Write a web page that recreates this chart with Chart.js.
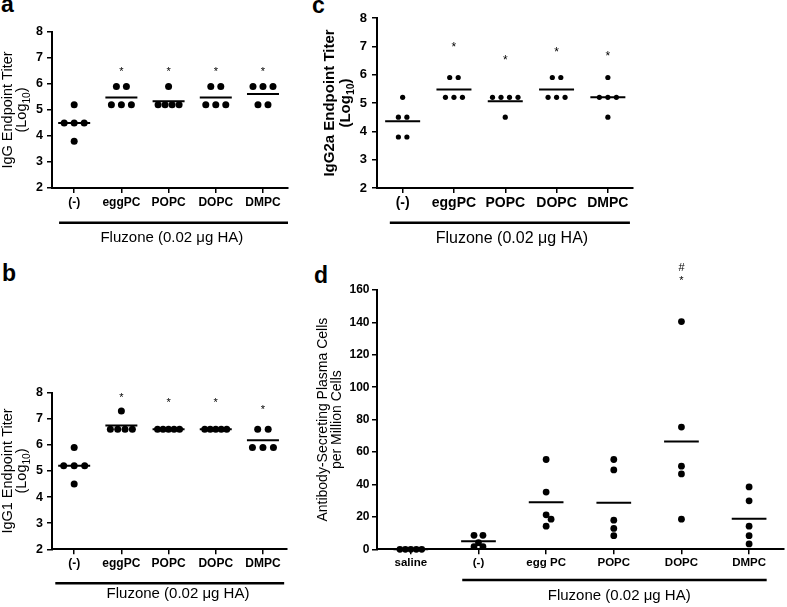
<!DOCTYPE html>
<html>
<head>
<meta charset="utf-8">
<script src="https://cdn.jsdelivr.net/npm/chart.js@4.4.1/dist/chart.umd.min.js"></script>
<style>
  body { margin: 0; background: #fff; }
  #fig { position: relative; width: 787px; height: 607px; overflow: hidden; }
  #fig canvas { position: absolute; }
  .letter { position: absolute; font: bold 23px "Liberation Sans", Arial, sans-serif; line-height: 23px; color: #000; }
</style>
</head>
<body>
<div id="fig">
  <div class="letter" style="left:1px;top:-7px">a</div>
  <div class="letter" style="left:312px;top:-6px">c</div>
  <div class="letter" style="left:2px;top:262px">b</div>
  <div class="letter" style="left:314px;top:264px">d</div>
  <canvas id="chartA" width="305" height="255" style="left:0;top:0"></canvas>
  <canvas id="chartC" width="335" height="255" style="left:310px;top:0"></canvas>
  <canvas id="chartB" width="305" height="349" style="left:0;top:258px"></canvas>
  <canvas id="chartD" width="477" height="349" style="left:310px;top:258px"></canvas>
</div>
<script>
// categories
const titerGroups = ['(-)', 'eggPC', 'POPC', 'DOPC', 'DMPC'];
const ascGroups = ['saline', '(-)', 'egg PC', 'POPC', 'DOPC', 'DMPC'];

// a: IgG endpoint titer (log10), five mice per group
const iggValues = [
  [5.2, 4.5, 4.5, 4.5, 3.8],
  [5.9, 5.9, 5.2, 5.2, 5.2],
  [5.9, 5.2, 5.2, 5.2, 5.2],
  [5.9, 5.9, 5.2, 5.2, 5.2],
  [5.9, 5.9, 5.9, 5.2, 5.2]
];
const iggStars = [null, 6.58, 6.58, 6.58, 6.58];

// b: IgG1
const igg1Values = [
  [5.9, 5.2, 5.2, 5.2, 4.5],
  [7.3, 6.6, 6.6, 6.6, 6.6],
  [6.6, 6.6, 6.6, 6.6, 6.6],
  [6.6, 6.6, 6.6, 6.6, 6.6],
  [6.6, 6.6, 5.9, 5.9, 5.9]
];
const igg1Stars = [null, 7.94, 7.72, 7.72, 7.46];

// c: IgG2a
const igg2aValues = [
  [5.2, 4.5, 4.5, 3.8, 3.8],
  [5.9, 5.9, 5.2, 5.2, 5.2],
  [5.2, 5.2, 5.2, 5.2, 4.5],
  [5.9, 5.9, 5.2, 5.2, 5.2],
  [5.9, 5.2, 5.2, 5.2, 4.5]
];
const igg2aStars = [null, 7.08, 6.63, 6.9, 6.75];

// d: antibody-secreting plasma cells per million cells
const ascValues = [
  [0, 0, 0, 0, 0],
  [8.6, 8.6, 4.1, 1.6, 1.6],
  [55.4, 35.3, 21.3, 18.6, 14.3],
  [55.4, 49, 18, 12.9, 8.4],
  [140.5, 75.4, 51.3, 46.5, 18.6],
  [38.5, 29.9, 14.3, 8.4, 3.3]
];
const ascStars = [null, null, null, null, 167.7, null];
const ascHashes = [null, null, null, null, 173.9, null];

const yTicksTiter = [2, 8, 1];
const yTicksAsc = [0, 160, 20];

const FONT = '"Liberation Sans", Arial, sans-serif';
Chart.defaults.font.family = FONT;
Chart.defaults.color = '#000';

const logTitle = [{ t: '(Log' }, { t: '10', sub: true }, { t: ')' }];

// spread dots horizontally: equal values side by side, near values nudged apart
function swarm(vals, cfg, pxPerY) {
  const order = vals.map((v, k) => k).sort((p, q) => vals[q] - vals[p]);
  const offs = new Array(vals.length).fill(0);
  const placed = [];
  let k = 0;
  while (k < order.length) {
    let j = k;
    while (j < order.length && vals[order[j]] === vals[order[k]]) j++;
    const n = j - k;
    if (n > 1) {
      const step = Math.min(cfg.step, cfg.span / (n - 1));
      for (let m = 0; m < n; m++) offs[order[k + m]] = (m - (n - 1) / 2) * step;
    } else {
      const y = vals[order[k]] * pxPerY;
      let dx = 0;
      for (let t = 0; t < 80; t++) {
        dx = (t % 2 ? 1 : -1) * Math.ceil(t / 2) * 0.5;
        if (placed.every(p => Math.hypot(p.x - dx, p.y - y) >= cfg.minGap)) break;
      }
      offs[order[k]] = dx;
    }
    for (let m = k; m < j; m++) placed.push({ x: offs[order[m]], y: vals[order[m]] * pxPerY });
    k = j;
  }
  return offs;
}

// draws a line of text centred on 0, with optional subscript pieces
function drawSegments(ctx, segs, size, weight) {
  const subSize = size * 0.7;
  ctx.textAlign = 'left';
  ctx.textBaseline = 'alphabetic';
  const widths = segs.map(s => {
    ctx.font = `${weight} ${s.sub ? subSize : size}px ${FONT}`;
    return ctx.measureText(s.t).width;
  });
  let x = -widths.reduce((a, b) => a + b, 0) / 2;
  segs.forEach((s, i) => {
    ctx.font = `${weight} ${s.sub ? subSize : size}px ${FONT}`;
    ctx.fillText(s.t, x, s.sub ? size * 0.25 : 0);
    x += widths[i];
  });
}

function buildPanel(id, cfg) {
  const canvas = document.getElementById(id);
  const W = canvas.width, H = canvas.height;
  const [yMin, yMax, yStep] = cfg.yTicks;
  const pxPerCat = (cfg.plotRight - cfg.plotLeft) / (cfg.xMax - cfg.xMin);
  const pxPerY = (cfg.plotBottom - cfg.plotTop) / (yMax - yMin);

  const points = [];
  const meanLine = [];
  cfg.values.forEach((vals, i) => {
    const offs = swarm(vals, cfg, pxPerY);
    vals.forEach((v, k) => points.push({ x: i + offs[k] / pxPerCat, y: v }));
    const mean = vals.reduce((s, v) => s + v, 0) / vals.length;
    const h = cfg.meanHalf / pxPerCat;
    meanLine.push({ x: i - h, y: mean }, { x: i + h, y: mean }, { x: i + 0.5, y: null });
  });

  const decor = {
    id: 'decor',
    afterDraw(chart) {
      const { ctx, chartArea } = chart;
      const x = chart.scales.x, y = chart.scales.y;
      ctx.save();
      ctx.fillStyle = '#000';
      ctx.strokeStyle = '#000';
      // significance marks
      ctx.textAlign = 'center';
      ctx.textBaseline = 'alphabetic';
      ctx.font = `${cfg.markSize}px ${FONT}`;
      cfg.stars.forEach((v, i) => {
        if (v == null) return;
        ctx.fillText('*', x.getPixelForValue(i), y.getPixelForValue(v) + cfg.markSize * 0.58);
      });
      (cfg.hashes || []).forEach((v, i) => {
        if (v == null) return;
        ctx.fillText('#', x.getPixelForValue(i), y.getPixelForValue(v) + cfg.markSize * 0.36);
      });
      // group bracket
      const by = chartArea.bottom + cfg.bracket.dy;
      ctx.lineWidth = 2.5;
      ctx.beginPath();
      ctx.moveTo(x.getPixelForValue(cfg.bracket.from), by);
      ctx.lineTo(x.getPixelForValue(cfg.bracket.to), by);
      ctx.stroke();
      ctx.font = `${cfg.groupSize}px ${FONT}`;
      ctx.fillText('Fluzone (0.02 \u03bcg HA)', x.getPixelForValue(cfg.bracket.textAt), chartArea.bottom + cfg.bracket.textDy);
      // y title
      const cy = (chartArea.top + chartArea.bottom) / 2;
      cfg.title.forEach((line, n) => {
        ctx.save();
        ctx.translate(cfg.titleX[n], cy);
        ctx.rotate(-Math.PI / 2);
        drawSegments(ctx, typeof line === 'string' ? [{ t: line }] : line, cfg.titleSize, cfg.titleWeight);
        ctx.restore();
      });
      ctx.restore();
    }
  };

  return new Chart(canvas, {
    type: 'scatter',
    data: {
      datasets: [
        {
          data: meanLine,
          showLine: true,
          spanGaps: false,
          borderColor: '#000',
          borderWidth: 2,
          pointRadius: 0,
          clip: false
        },
        {
          data: points,
          pointRadius: cfg.radius,
          pointHoverRadius: cfg.radius,
          backgroundColor: '#000',
          borderWidth: 0,
          clip: false
        }
      ]
    },
    options: {
      responsive: false,
      animation: false,
      events: [],
      layout: { padding: { top: cfg.plotTop, right: W - cfg.plotRight, bottom: 0, left: 0 } },
      plugins: { legend: { display: false }, tooltip: { enabled: false } },
      scales: {
        x: {
          type: 'linear',
          min: cfg.xMin,
          max: cfg.xMax,
          afterBuildTicks: s => { s.ticks = cfg.groups.map((g, i) => ({ value: i })); },
          afterFit: s => {
            s.height = H - cfg.plotBottom;
            s.paddingLeft = s.paddingRight = s.paddingTop = s.paddingBottom = 0;
          },
          grid: { drawOnChartArea: false, drawTicks: true, tickLength: 5, color: '#000', lineWidth: 1.5 },
          border: { display: true, color: '#000', width: 2 },
          ticks: {
            autoSkip: false,
            maxRotation: 0,
            padding: 2,
            color: '#000',
            font: { size: cfg.xLabelSize, weight: 'bold' },
            callback: v => cfg.groups[v]
          }
        },
        y: {
          min: yMin,
          max: yMax,
          afterFit: s => {
            s.width = cfg.plotLeft;
            s.paddingLeft = s.paddingRight = s.paddingTop = s.paddingBottom = 0;
          },
          grid: { drawOnChartArea: false, drawTicks: true, tickLength: 5, color: '#000', lineWidth: 1.5 },
          border: { display: true, color: '#000', width: 2 },
          ticks: {
            stepSize: yStep,
            padding: cfg.yPad,
            color: '#000',
            font: { size: cfg.yLabelSize, weight: 'bold' }
          }
        }
      }
    },
    plugins: [decor]
  });
}

buildPanel('chartA', {
  groups: titerGroups, values: iggValues, stars: iggStars, yTicks: yTicksTiter,
  plotLeft: 52, plotRight: 288, plotTop: 32, plotBottom: 188, xMin: -0.47, xMax: 4.53,
  radius: 3.5, step: 10, span: 21, minGap: 7, meanHalf: 16,
  markSize: 11, xLabelSize: 12, yLabelSize: 12.5, yPad: 4, groupSize: 15,
  title: ['IgG Endpoint Titer', logTitle], titleX: [12, 26], titleSize: 14.5, titleWeight: 'normal',
  bracket: { from: -0.32, to: 4.53, dy: 34.7, textAt: 2.07, textDy: 53.5 }
});

buildPanel('chartC', {
  groups: titerGroups, values: igg2aValues, stars: igg2aStars, yTicks: yTicksTiter,
  plotLeft: 67, plotRight: 323, plotTop: 18, plotBottom: 188, xMin: -0.5, xMax: 4.49,
  radius: 2.6, step: 8.5, span: 27, minGap: 5.2, meanHalf: 17.5,
  markSize: 12, xLabelSize: 14, yLabelSize: 13, yPad: 5, groupSize: 16,
  title: ['IgG2a Endpoint Titer', logTitle], titleX: [24, 40], titleSize: 15, titleWeight: 'bold',
  bracket: { from: -0.25, to: 4.43, dy: 34.7, textAt: 2.13, textDy: 54.5 }
});

buildPanel('chartB', {
  groups: titerGroups, values: igg1Values, stars: igg1Stars, yTicks: yTicksTiter,
  plotLeft: 52, plotRight: 287, plotTop: 134.7, plotBottom: 291.3, xMin: -0.47, xMax: 4.51,
  radius: 3.5, step: 10.5, span: 22, minGap: 7, meanHalf: 16,
  markSize: 11, xLabelSize: 12, yLabelSize: 12.5, yPad: 4, groupSize: 15,
  title: ['IgG1 Endpoint Titer', logTitle], titleX: [12, 26], titleSize: 14.5, titleWeight: 'normal',
  bracket: { from: -0.4, to: 4.45, dy: 34, textAt: 2.2, textDy: 49 }
});

buildPanel('chartD', {
  groups: ascGroups, values: ascValues, stars: ascStars, hashes: ascHashes, yTicks: yTicksAsc,
  plotLeft: 67, plotRight: 477, plotTop: 32, plotBottom: 291.3, xMin: -0.5, xMax: 5.51,
  radius: 3.4, step: 9, span: 22, minGap: 6.5, meanHalf: 17.5,
  markSize: 11, xLabelSize: 11.5, yLabelSize: 12, yPad: 2.5, groupSize: 15,
  title: ['Antibody-Secreting Plasma Cells', 'per Million Cells'], titleX: [16.7, 31], titleSize: 14, titleWeight: 'normal',
  bracket: { from: 0.76, to: 5.26, dy: 30.7, textAt: 3.08, textDy: 51 }
});
</script>
</body>
</html>
